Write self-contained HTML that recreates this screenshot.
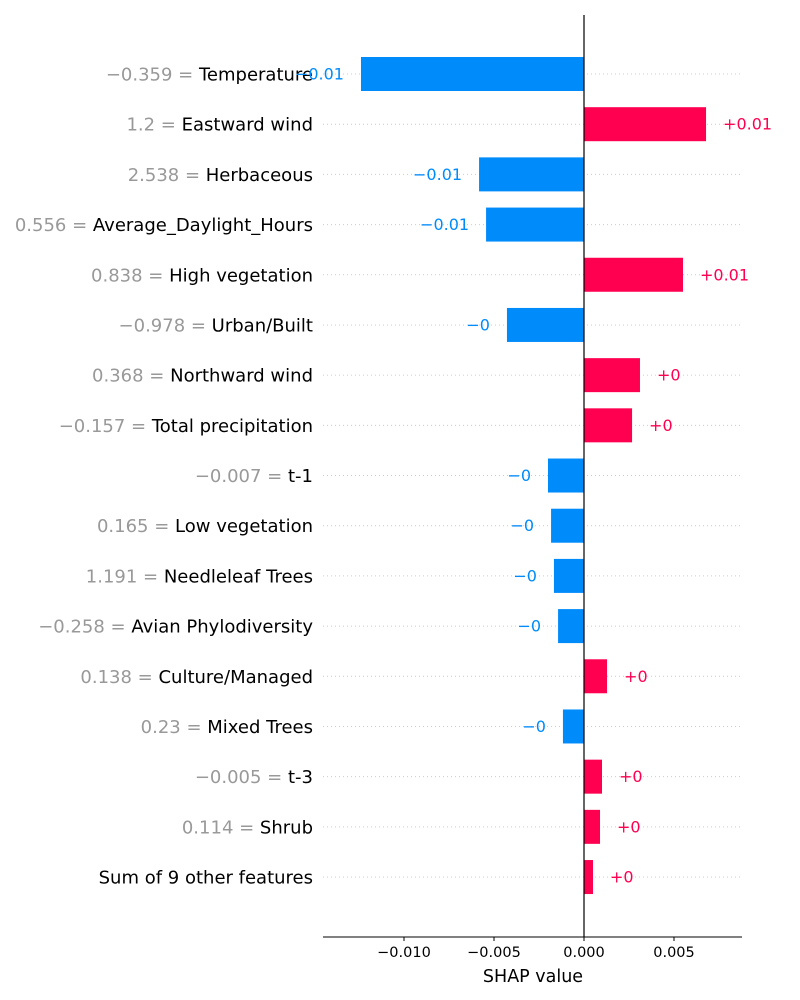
<!DOCTYPE html>
<html><head><meta charset="utf-8"><style>
html,body{margin:0;padding:0;background:#fff;}
svg{display:block;font-family:"DejaVu Sans","Liberation Sans",sans-serif;}
</style></head><body>
<svg id="chart" width="800" height="1000" viewBox="0 0 800 1000" xmlns="http://www.w3.org/2000/svg"></svg>
<script>
const features = ["Temperature","Eastward wind","Herbaceous","Average_Daylight_Hours","High vegetation","Urban/Built","Northward wind","Total precipitation","t-1","Low vegetation","Needleleaf Trees","Avian Phylodiversity","Culture/Managed","Mixed Trees","t-3","Shrub","Sum of 9 other features"];
const featureValues = ["\u22120.359","1.2","2.538","0.556","0.838","\u22120.978","0.368","\u22120.157","\u22120.007","0.165","1.191","\u22120.258","0.138","0.23","\u22120.005","0.114",""];
const shapValues = [-0.01239,0.00678,-0.00583,-0.00544,0.0055,-0.00428,0.00311,0.00267,-0.002,-0.00183,-0.00167,-0.00144,0.00128,-0.00117,0.001,0.00089,0.0005];
const tickValues = [-0.010,-0.005,0.000,0.005];
const tickLabels = ["\u22120.010","\u22120.005","0.000","0.005"];

const svg = document.getElementById('chart');
const NS = "http://www.w3.org/2000/svg";
const x0 = 584, pxPerUnit = 18000;
const xScale = v => x0 + v * pxPerUnit;
const yScale = i => 74 + i * 50.19;
const left = 323, right = 742, axisY = 937;
const BLUE = "#008bfb", RED = "#ff0051";
function mk(tag, attrs, text){
  const e = document.createElementNS(NS, tag);
  for (const k in attrs) e.setAttribute(k, attrs[k]);
  if (text !== undefined) e.textContent = text;
  svg.appendChild(e);
  return e;
}
function fmt(v){
  const r = Math.round(v*100)/100;
  const s = v < 0 ? "\u2212" : "+";
  return r === 0 ? s + "0" : s + Math.abs(r).toFixed(2).replace(/0+$/,'').replace(/\.$/,'');
}
features.forEach((f, i) => {
  const y = yScale(i);
  const g = mk('line', {x1:left, x2:right, y1:y, y2:y, stroke:"#ccc", "stroke-width":1, "stroke-dasharray":"1,3"});
  
  
});
features.forEach((f, i) => {
  const y = yScale(i), v = shapValues[i];
  const xa = xScale(Math.min(0, v)), xb = xScale(Math.max(0, v));
  const col = v < 0 ? BLUE : RED;
  const b = mk('rect', {x:xa, y:y-17, width:xb-xa, height:34, fill:col});
  
  
  const lab = mk('text', {x:313, y:y+6.5, "font-size":18, "text-anchor":"end", fill:"#000"});
  
  
  if (featureValues[i]) {
    const s1 = document.createElementNS(NS, 'tspan');
    s1.setAttribute('fill', '#999');
    s1.textContent = featureValues[i] + " = ";
    lab.appendChild(s1);
  }
  const s2 = document.createElementNS(NS, 'tspan');
  s2.textContent = f;
  lab.appendChild(s2);
  const t = mk('text', {x: v < 0 ? xa - 17 : xb + 17, y: y + 5.5, "font-size":16, fill:col, "text-anchor": v < 0 ? "end" : "start"}, fmt(v));
  
  
});
mk('line', {x1:x0, x2:x0, y1:15, y2:axisY, stroke:"#000", "stroke-width":1.2});
const ax = mk('line', {x1:left, x2:right, y1:axisY, y2:axisY, stroke:"#000", "stroke-width":1});


tickValues.forEach((tv, i) => {
  const x = xScale(tv);
  mk('line', {x1:x, x2:x, y1:axisY, y2:axisY+4, stroke:"#000", "stroke-width":1});
  const t = mk('text', {x:x, y:957, "font-size":14.5, "text-anchor":"middle", fill:"#000"}, tickLabels[i]);
  
  
});
const xt = mk('text', {x:533, y:982, "font-size":17.5, "text-anchor":"middle", fill:"#000"}, "SHAP value");


</script>
</body></html>
